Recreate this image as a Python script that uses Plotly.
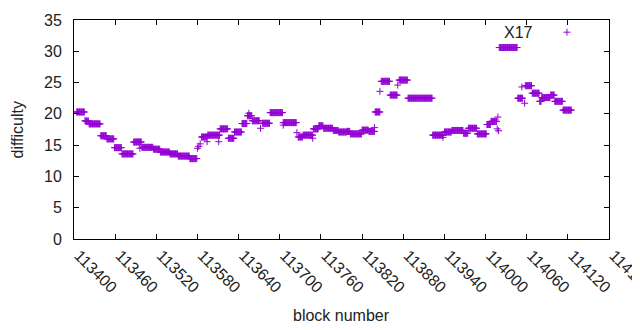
import plotly.graph_objects as go

BASE = 113400
# runs of constant difficulty: (start offset, end offset, value), offsets from BASE
run_start = [4, 17, 22, 39, 48, 59, 70, 87, 99, 116, 126, 140, 152, 169, 186, 195, 213, 225, 234, 245,
             253, 260, 275, 286, 305, 327, 334, 349, 357, 364, 378, 386, 398, 403, 420, 430, 439, 448,
             461, 474, 487, 523, 540, 551, 568, 575, 588, 602, 608, 620, 647, 658, 668, 679, 682, 695,
             701, 713]
run_end = [15, 21, 38, 47, 58, 69, 86, 98, 115, 125, 139, 151, 168, 179, 194, 212, 224, 233, 244, 252,
           259, 270, 285, 304, 324, 333, 348, 356, 363, 377, 385, 397, 402, 419, 429, 438, 446, 460,
           471, 486, 522, 538, 550, 567, 574, 587, 601, 607, 616, 646, 654, 667, 678, 681, 694, 700,
           712, 725]
run_value = [20.3, 18.85, 18.4, 16.5, 16.0, 14.6, 13.6, 15.5, 14.65, 14.35, 13.9, 13.6, 13.25, 12.85,
             16.3, 16.6, 17.6, 16.1, 17.1, 18.45, 19.7, 18.9, 18.5, 20.2, 18.6, 16.3, 16.6, 17.6, 18.1,
             17.7, 17.35, 17.1, 17.2, 16.8, 17.4, 17.2, 20.3, 25.2, 23.0, 25.4, 22.5, 16.6, 17.1, 17.35,
             16.9, 17.7, 16.8, 18.3, 18.8, 30.6, 22.5, 24.5, 23.3, 22.0, 22.6, 23.0, 22.0, 20.6]
# isolated points
single_offset = [16, 96, 180, 182, 184, 194, 211, 255, 272, 305, 325, 348, 438, 446, 472, 538,
                 617, 618, 619, 653, 657]
single_value = [18.9, 14.5, 14.5, 14.8, 15.2, 15.55, 15.55, 20.1, 17.7, 18.2, 17.0, 16.1, 17.8, 23.6,
                24.6, 16.25, 17.6, 19.5, 17.3, 24.3, 21.7]

blocks, diffs = [], []
for s, e, v in zip(run_start, run_end, run_value):
    for b in range(s, e + 1):
        blocks.append(BASE + b)
        diffs.append(v)
for b, v in zip(single_offset, single_value):
    blocks.append(BASE + b)
    diffs.append(v)

x_ticks = list(range(113400, 114181, 60))
y_ticks = list(range(0, 36, 5))

COLOR = "#9400D3"
FONT = "Liberation Sans, Arial, sans-serif"
FS = 16

fig = go.Figure()
fig.add_trace(go.Scatter(
    x=blocks, y=diffs, mode="markers", name=" ",
    marker=dict(symbol="cross-thin-open", size=5, color=COLOR, line=dict(color=COLOR, width=1)),
    showlegend=True,
))

axis_common = dict(showgrid=False, zeroline=False, showline=True, linecolor="black", linewidth=1,
                   mirror="allticks", ticks="inside", ticklen=5, tickcolor="black", tickwidth=1,
                   tickfont=dict(family=FONT, size=FS, color="#222"), automargin=False)

# the page body has an 8px margin, so the figure is offset by 8px; compensate in margins
fig.update_layout(
    width=640, height=330,
    margin=dict(l=66, r=39, t=11, b=99),
    paper_bgcolor="white", plot_bgcolor="white",
    font=dict(family=FONT, size=FS, color="#222"),
    xaxis=dict(range=[113400, 114180], tickvals=x_ticks, ticktext=[str(t) for t in x_ticks],
               tickangle=45, ticklabelshift=5, ticklabeloverflow="allow", **axis_common),
    yaxis=dict(range=[0, 35], tickvals=y_ticks, ticktext=[str(t) for t in y_ticks],
               ticklabelstandoff=8, **axis_common),
    legend=dict(x=0.884, y=1.006, xanchor="left", yanchor="top", bgcolor="rgba(0,0,0,0)",
                font=dict(family=FONT, size=8), itemwidth=30, borderwidth=0),
    annotations=[
        dict(text="X17", xref="paper", yref="paper", x=0.862, y=0.945, xanchor="right",
             yanchor="middle", showarrow=False, font=dict(family=FONT, size=FS, color="#222")),
        dict(text="difficulty", xref="paper", yref="paper", x=0, y=0.5, xshift=-57,
             textangle=-90, showarrow=False, xanchor="center", yanchor="middle",
             font=dict(family=FONT, size=FS, color="#222")),
        dict(text="block number", xref="paper", yref="paper", x=0.5, y=0, yshift=-76,
             showarrow=False, xanchor="center", yanchor="middle",
             font=dict(family=FONT, size=FS, color="#222")),
    ],
)

fig.write_html("out.html")
